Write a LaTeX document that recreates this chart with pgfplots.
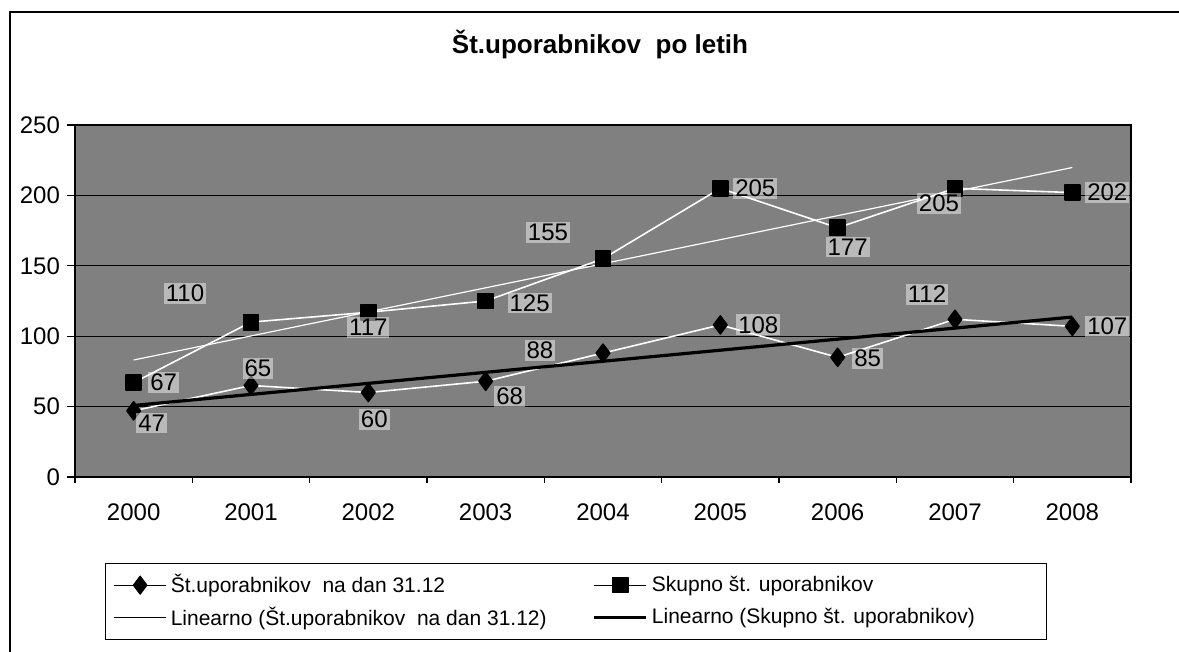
\documentclass[border=0pt]{standalone}
\usepackage{fontspec}
\setmainfont{Liberation Sans}
\usepackage{pgfplots}
\pgfplotsset{compat=1.18}
\usepackage{pgfplotstable}

\pgfplotstableread{
x y dx dy
0 47 9 -6
1 65 3.5 8.5
2 60 3 -13.5
3 68 12 -7.5
4 88 -31.5 1.5
5 108 19 0
6 85 15 -0.5
7 112 -14 12.5
8 107 17.5 0
}\lowdata

\pgfplotstableread{
x y dx dy
0 67 15 0
1 110 -33 14.5
2 117 0 -7.5
3 125 22 -1
4 155 -27.5 13
5 205 17.5 0
6 177 5 -9.5
7 205 -8 -7.5
8 202 17.5 0
}\updata

\begin{document}
\begin{tikzpicture}
\useasboundingbox (0,0) rectangle (589.5pt,-326pt);
\draw[line width=0.8pt] (5pt,-326pt) -- (5pt,-6pt) -- (589.5pt,-6pt);
\node[font=\bfseries\fontsize{13}{15}\selectfont] at (300pt,-22.5pt) {Št.uporabnikov\ \ po letih};
\begin{axis}[
  at={(37.5pt,-62.5pt)}, anchor=north west,
  scale only axis, width=528pt, height=176pt,
  xmin=-0.5, xmax=8.5, ymin=0, ymax=250,
  ytick={0,50,...,250},
  xtick={0,...,8},
  xticklabels={2000,2001,2002,2003,2004,2005,2006,2007,2008},
  minor xtick={-0.5,0.5,...,8.5},
  tick align=outside,
  major tick length=4pt, minor tick length=3pt,
  major x tick style={draw=none},
  minor x tick style={black, line width=0.6pt},
  major y tick style={black, line width=0.6pt},
  tick pos=left,
  axis line style={black, line width=0.8pt},
  ymajorgrids, grid style={black, line width=0.6pt},
  axis background/.style={fill=black!50},
  /pgf/number format/assume math mode=true,
  ticklabel style={font=\fontsize{12}{14}\selectfont},
  xticklabel style={yshift=-6pt},
  legend columns=2,
  legend cell align=left,
  legend image code/.code={\draw[mark repeat=2,mark phase=2] plot coordinates {(0pt,0pt) (13pt,0pt) (26pt,0pt)};},
  legend style={at={(0.0284,-0.244)}, anchor=north west, draw=black, line width=0.6pt, fill=white,
    font=\fontsize{10.5}{12.6}\selectfont, inner xsep=4pt, inner ysep=3.5pt, row sep=1.5pt,
    /tikz/column 2/.style={column sep=21pt}},
  every axis plot/.append style={line join=round},
]
\addplot[white, line width=0.8pt, mark=diamond*, mark size=4.5pt,
  mark options={black, fill=black, solid},
  point meta=explicit, nodes near coords,
  visualization depends on={\thisrow{dx} \as \dx},
  visualization depends on={\thisrow{dy} \as \dy},
  nodes near coords style={anchor=center, xshift=\dx pt, yshift=\dy pt, text=black,
    font=\fontsize{12}{14}\selectfont, fill=white, fill opacity=0.45, text opacity=1, inner sep=1pt},
  legend image post style={black, line width=0.6pt}]
  table[x=x, y=y, meta=y]{\lowdata};
\addlegendentry{Št.uporabnikov\ \ na dan 31.12}
\addplot[white, line width=0.8pt, mark=square*, mark size=3.8pt,
  mark options={black, fill=black, solid},
  point meta=explicit, nodes near coords,
  visualization depends on={\thisrow{dx} \as \dx},
  visualization depends on={\thisrow{dy} \as \dy},
  nodes near coords style={anchor=center, xshift=\dx pt, yshift=\dy pt, text=black,
    font=\fontsize{12}{14}\selectfont, fill=white, fill opacity=0.45, text opacity=1, inner sep=1pt},
  legend image post style={black, line width=0.6pt}]
  table[x=x, y=y, meta=y]{\updata};
\addlegendentry{Skupno št. uporabnikov}
\addplot[white, line width=0.6pt, legend image post style={black, line width=0.4pt}]
  coordinates {(0,83.1) (8,219.8)};
\addlegendentry{Linearno (Št.uporabnikov\ \ na dan 31.12)}
\addplot[black, line width=1.6pt]
  coordinates {(0,50.8) (8,113.6)};
\addlegendentry{Linearno (Skupno št. uporabnikov)\hspace*{30pt}}
\end{axis}
\end{tikzpicture}
\end{document}
